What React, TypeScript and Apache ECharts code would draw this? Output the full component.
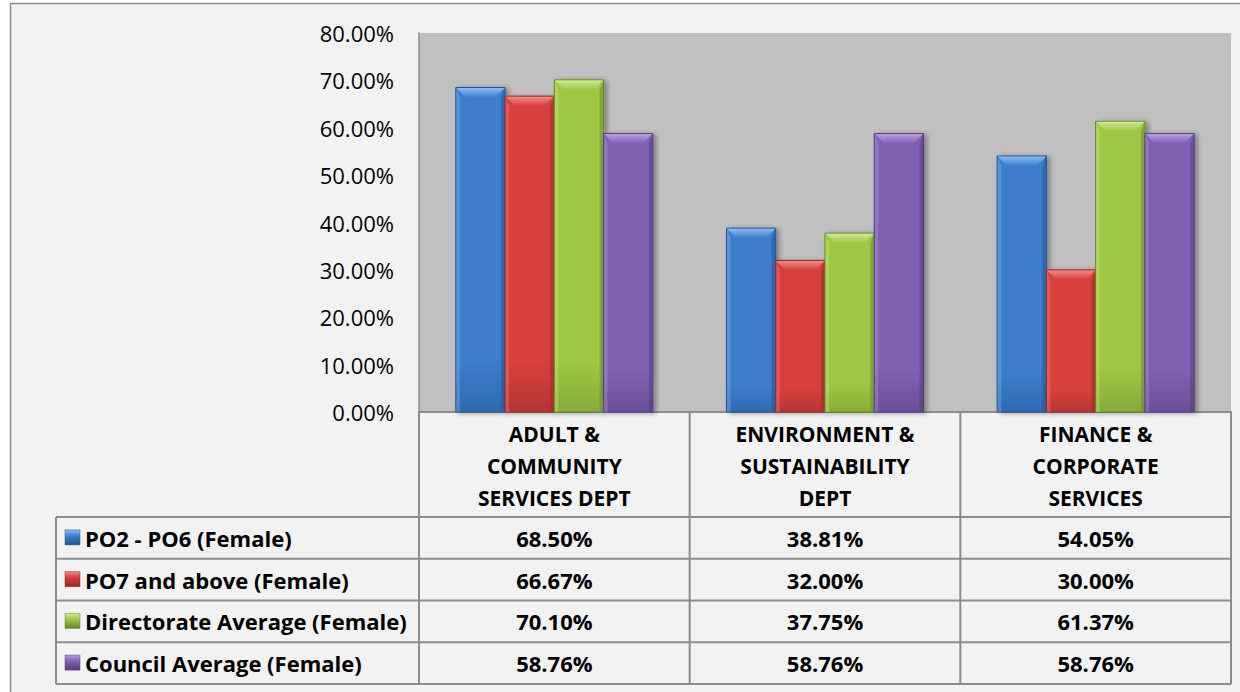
import React, { useEffect, useRef } from "react";
import * as echarts from "echarts";

// ---------- data ----------
const categories = [
  "ADULT &\nCOMMUNITY\nSERVICES DEPT",
  "ENVIRONMENT &\nSUSTAINABILITY\nDEPT",
  "FINANCE &\nCORPORATE\nSERVICES",
];
const seriesNames = [
  "PO2 - PO6 (Female)",
  "PO7 and above (Female)",
  "Directorate Average (Female)",
  "Council Average (Female)",
];
const po2ToPo6 = [68.5, 38.81, 54.05];
const po7AndAbove = [66.67, 32.0, 30.0];
const directorateAverage = [70.1, 37.75, 61.37];
const councilAverage = [58.76, 58.76, 58.76];
const yMin = 0;
const yMax = 80;
const yStep = 10;

const seriesValues = [po2ToPo6, po7AndAbove, directorateAverage, councilAverage];

// ---------- styles ----------
const palettes = [
  { base: "#3c7dcc", dark: "#24548f", light: "#8fbcf3", bottom: "#2f69b0" },
  { base: "#d63f3c", dark: "#932927", light: "#f08b89", bottom: "#b53533" },
  { base: "#9dc744", dark: "#67872c", light: "#d0ea8e", bottom: "#86ab38" },
  { base: "#8061b1", dark: "#543c7c", light: "#b69de0", bottom: "#6a4f98" },
];
const FONT = "'Open Sans', 'Liberation Sans', sans-serif";
const LINE = "#8c8c8c";

const GRID = { left: 419, top: 33, width: 812, height: 379 };
const TABLE_LEFT = 56;
const HEADER_BOTTOM = 517;
const ROW_H = 41.75;
const GROUP_RATIO = 0.728;

function renderBar(si: number) {
  return (params: any, api: any) => {
    const cat = api.value(0);
    const val = api.value(1);
    const top = api.coord([cat, val]);
    const base = api.coord([cat, 0]);
    const catW = api.size([1, 0])[0];
    const groupW = catW * GROUP_RATIO;
    const bw = groupW / seriesValues.length;
    const x = top[0] - groupW / 2 + si * bw;
    const y = top[1];
    const h = base[1] - top[1];
    const p = palettes[si];
    const bev = 10;
    const side = 4;
    return {
      type: "group",
      children: [
        {
          type: "rect",
          shape: { x, y, width: bw, height: h },
          style: {
            fill: new echarts.graphic.LinearGradient(0, 0, 0, 1, [
              { offset: 0, color: p.base },
              { offset: 0.85, color: p.base },
              { offset: 1, color: p.bottom },
            ]),
            stroke: p.dark,
            lineWidth: 1,
            shadowBlur: 5,
            shadowOffsetX: 3,
            shadowOffsetY: 1,
            shadowColor: "rgba(0,0,0,0.35)",
          },
        },
        {
          type: "polygon",
          shape: {
            points: [
              [x + 0.5, y + 0.5],
              [x + bw - 0.5, y + 0.5],
              [x + bw - bev, y + bev],
              [x + bev, y + bev],
            ],
          },
          style: {
            fill: new echarts.graphic.LinearGradient(0, 0, 0, 1, [
              { offset: 0, color: p.light },
              { offset: 1, color: p.base },
            ]),
          },
        },
        {
          type: "polygon",
          shape: {
            points: [
              [x + 0.5, y + 0.5],
              [x + side, y + bev],
              [x + side, y + h],
              [x + 0.5, y + h],
            ],
          },
          style: { fill: p.light, opacity: 0.35 },
        },
        {
          type: "polygon",
          shape: {
            points: [
              [x + bw - 0.5, y + 0.5],
              [x + bw - side, y + bev],
              [x + bw - side, y + h],
              [x + bw - 0.5, y + h],
            ],
          },
          style: { fill: p.dark, opacity: 0.5 },
        },
      ],
    };
  };
}

function buildTable(): any[] {
  const els: any[] = [];
  const right = GRID.left + GRID.width;
  const bottom = HEADER_BOTTOM + ROW_H * seriesNames.length;
  const colW = GRID.width / categories.length;
  for (let r = 0; r <= seriesNames.length; r++) {
    const y = HEADER_BOTTOM + r * ROW_H;
    els.push({
      type: "line",
      shape: { x1: TABLE_LEFT, y1: y, x2: right, y2: y },
      style: { stroke: LINE, lineWidth: 2 },
      z: 10,
    });
  }
  for (let c = 0; c <= categories.length; c++) {
    const x = GRID.left + c * colW;
    els.push({
      type: "line",
      shape: { x1: x, y1: GRID.top + GRID.height, x2: x, y2: bottom },
      style: { stroke: LINE, lineWidth: 2 },
      z: 10,
    });
  }
  els.push({
    type: "line",
    shape: { x1: TABLE_LEFT, y1: HEADER_BOTTOM, x2: TABLE_LEFT, y2: bottom },
    style: { stroke: LINE, lineWidth: 2 },
    z: 10,
  });
  seriesNames.forEach((name, r) => {
    const cy = HEADER_BOTTOM + r * ROW_H + ROW_H / 2;
    const p = palettes[r];
    els.push({
      type: "rect",
      shape: { x: 65, y: cy - 8, width: 15, height: 15 },
      style: {
        fill: new echarts.graphic.LinearGradient(0, 0, 0, 1, [
          { offset: 0, color: p.light },
          { offset: 0.4, color: p.base },
          { offset: 1, color: p.dark },
        ]),
        stroke: p.dark,
        lineWidth: 0.5,
      },
      z: 10,
    });
    els.push({
      type: "text",
      x: 85,
      y: cy,
      style: {
        text: name,
        font: `bold 22px ${FONT}`,
        fill: "#000",
        align: "left",
        verticalAlign: "middle",
      },
      z: 10,
    });
    seriesValues[r].forEach((v, c) => {
      els.push({
        type: "text",
        x: GRID.left + c * colW + colW / 2,
        y: cy,
        style: {
          text: `${v.toFixed(2)}%`,
          font: `bold 22px ${FONT}`,
          fill: "#000",
          align: "center",
          verticalAlign: "middle",
        },
        z: 10,
      });
    });
  });
  return els;
}

export default function App() {
  const ref = useRef<HTMLDivElement>(null);
  useEffect(() => {
    if (!ref.current) return;
    const chart = echarts.init(ref.current, undefined, { renderer: "svg" });
    chart.setOption({
      animation: false,
      backgroundColor: "#f2f2f2",
      grid: {
        left: GRID.left,
        top: GRID.top,
        width: GRID.width,
        height: GRID.height,
        show: true,
        backgroundColor: "#c0c0c0",
        borderWidth: 0,
      },
      xAxis: {
        type: "category",
        data: categories,
        axisLine: { show: true, lineStyle: { color: LINE, width: 2 } },
        axisTick: { show: false },
        axisLabel: {
          interval: 0,
          margin: 6,
          color: "#000",
          fontFamily: FONT,
          fontWeight: "bold",
          fontSize: 21,
          lineHeight: 32,
        },
      },
      yAxis: {
        type: "value",
        min: yMin,
        max: yMax,
        interval: yStep,
        axisLine: { show: true, lineStyle: { color: LINE, width: 1.5 } },
        axisTick: { show: false },
        splitLine: { show: false },
        axisLabel: {
          margin: 25,
          color: "#000",
          fontFamily: FONT,
          fontSize: 22,
          formatter: (v: number) => `${v.toFixed(2)}%`,
        },
      },
      series: seriesNames.map((name, si) => ({
        type: "custom",
        name,
        renderItem: renderBar(si),
        encode: { x: 0, y: 1 },
        data: seriesValues[si].map((v, i) => [i, v]),
        z: 3,
      })),
      graphic: [
        { type: "rect", shape: { x: 0, y: 0, width: 1240, height: 3 }, style: { fill: "#ffffff" }, z: 0 },
        { type: "rect", shape: { x: 0, y: 0, width: 10, height: 692 }, style: { fill: "#ffffff" }, z: 0 },
        { type: "line", shape: { x1: 10, y1: 3.5, x2: 1240, y2: 3.5 }, style: { stroke: LINE, lineWidth: 1.5 }, z: 0 },
        { type: "line", shape: { x1: 10.5, y1: 3, x2: 10.5, y2: 692 }, style: { stroke: LINE, lineWidth: 1.5 }, z: 0 },
        ...buildTable(),
      ],
    });
    return () => chart.dispose();
  }, []);
  return (
    <div
      ref={ref}
      style={{ position: "fixed", left: 0, top: 0, width: 1240, height: 692 }}
    />
  );
}
